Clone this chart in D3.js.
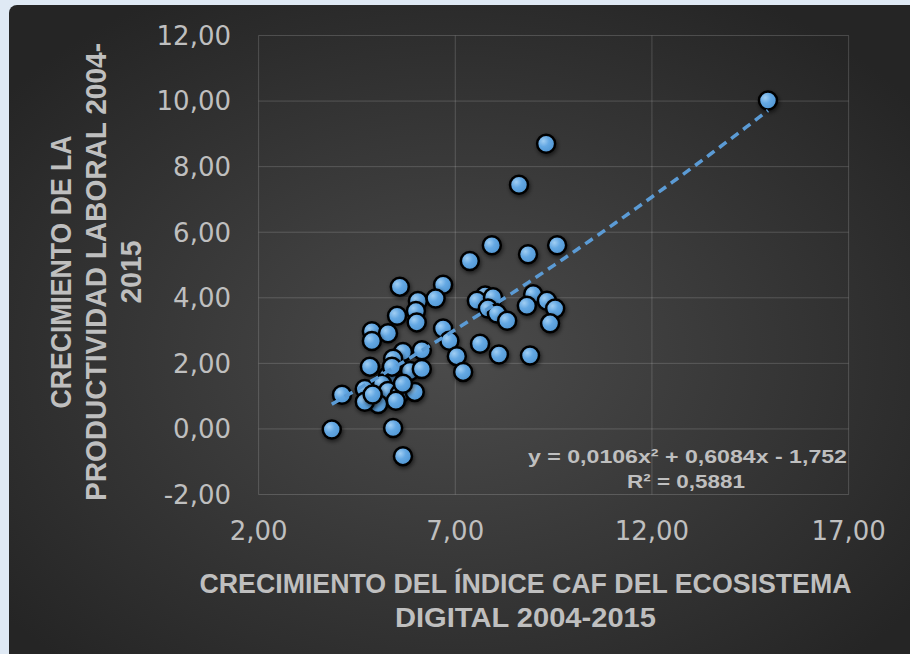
<!DOCTYPE html>
<html>
<head>
<meta charset="utf-8">
<script src="https://cdn.jsdelivr.net/npm/d3@7"></script>
<style>
  html, body { margin: 0; padding: 0; background: #dfe9f4; }
  svg { display: block; }
</style>
</head>
<body>
<div id="chart"></div>
<script>
// growth of the CAF digital ecosystem index (x) vs labour productivity growth (y)
var indexGrowth = [
  14.95, 9.31, 8.62, 7.93, 7.37, 9.59, 8.85, 5.59, 6.69, 6.05,
  6.50, 5.52, 6.00, 6.02, 4.88, 5.29, 4.88, 6.69, 6.85, 7.04,
  7.20, 7.63, 8.11, 8.90, 7.76, 7.55, 7.96, 7.83, 8.06, 8.32,
  8.98, 8.82, 9.33, 9.54, 9.41, 5.67, 6.15, 5.42, 4.83, 5.29,
  5.85, 6.15, 4.70, 5.14, 5.29, 5.59, 5.97, 5.67, 5.04, 4.70,
  5.49, 4.12, 3.86, 5.42, 5.67, 4.90, 5.39
];
var productivityGrowth = [
  10.02, 8.70, 7.45, 5.60, 5.12, 5.60, 5.33, 4.34, 4.40, 3.90,
  3.98, 3.45, 3.60, 3.25, 2.98, 2.92, 2.68, 3.06, 2.69, 2.22,
  1.74, 2.60, 2.27, 2.24, 4.07, 3.91, 4.02, 3.67, 3.52, 3.30,
  4.11, 3.76, 3.91, 3.67, 3.22, 2.35, 2.40, 2.14, 1.90, 1.62,
  1.77, 1.83, 1.22, 1.38, 1.16, 1.07, 1.13, 1.38, 0.76, 0.83,
  0.86, 1.04, -0.02, 0.03, -0.83, 1.05, 1.90
];

var xTicks = [2, 7, 12, 17];
var yTicks = [-2, 0, 2, 4, 6, 8, 10, 12];

// polynomial trendline (order 2) as reported on the chart
var trendCoef = [0.0106, 0.6084, -1.752];
var trendLabel = "y = 0,0106x² + 0,6084x - 1,752";
var r2Label = "R² = 0,5881";

var xTitle = ["CRECIMIENTO DEL ÍNDICE CAF DEL ECOSISTEMA", "DIGITAL 2004-2015"];
var yTitle = ["CRECIMIENTO DE LA", "PRODUCTIVIDAD LABORAL 2004-", "2015"];

var width = 910, height = 654;
var textColor = "#bfbfbf";

var svg = d3.select("#chart").append("svg")
  .attr("width", width)
  .attr("height", height);

var defs = svg.append("defs");

var bg = defs.append("radialGradient")
  .attr("id", "bg")
  .attr("cx", "48%").attr("cy", "52%").attr("r", "62%");
bg.append("stop").attr("offset", "0%").attr("stop-color", "#4b4b4b");
bg.append("stop").attr("offset", "100%").attr("stop-color", "#252525");

var dot = defs.append("radialGradient")
  .attr("id", "dot")
  .attr("cx", "35%").attr("cy", "35%").attr("r", "70%");
dot.append("stop").attr("offset", "0%").attr("stop-color", "#a0cef3");
dot.append("stop").attr("offset", "45%").attr("stop-color", "#64a8e3");
dot.append("stop").attr("offset", "100%").attr("stop-color", "#5096d3");

var shadow = defs.append("filter")
  .attr("id", "shadow")
  .attr("x", "-50%").attr("y", "-50%").attr("width", "200%").attr("height", "200%");
shadow.append("feDropShadow")
  .attr("dx", 1).attr("dy", 2).attr("stdDeviation", 2)
  .attr("flood-color", "#000").attr("flood-opacity", 0.6);

// dark panel
svg.append("rect")
  .attr("x", 9).attr("y", 5)
  .attr("width", width + 20).attr("height", height + 20)
  .attr("rx", 8)
  .attr("fill", "url(#bg)");

var x = d3.scaleLinear().domain([2, 17]).range([258.6, 848.6]);
var y = d3.scaleLinear().domain([-2, 12]).range([494.5, 35.5]);

var locale = d3.formatLocale({ decimal: ",", thousands: ".", grouping: [3], currency: ["", ""], minus: "-" });
var fmt = locale.format(".2f");

// gridlines
var grid = svg.append("g").attr("stroke", "rgba(255,255,255,0.17)").attr("stroke-width", 1);
grid.selectAll("line.h").data(yTicks).enter().append("line")
  .attr("x1", x(2)).attr("x2", x(17))
  .attr("y1", d => y(d)).attr("y2", d => y(d));
grid.selectAll("line.v").data(xTicks).enter().append("line")
  .attr("y1", y(-2)).attr("y2", y(12))
  .attr("x1", d => x(d)).attr("x2", d => x(d));

// tick labels
svg.append("g").selectAll("text").data(yTicks).enter().append("text")
  .attr("x", 231).attr("y", d => y(d))
  .attr("dy", "0.36em")
  .attr("text-anchor", "end")
  .attr("font-family", "DejaVu Sans")
  .attr("font-size", 26)
  .attr("fill", textColor)
  .text(d => fmt(d));

svg.append("g").selectAll("text").data(xTicks).enter().append("text")
  .attr("x", d => x(d)).attr("y", 540)
  .attr("text-anchor", "middle")
  .attr("font-family", "DejaVu Sans")
  .attr("font-size", 26)
  .attr("fill", textColor)
  .text(d => fmt(d));

// points
var points = indexGrowth.map((v, i) => [v, productivityGrowth[i]]);
svg.append("g").selectAll("circle").data(points).enter().append("circle")
  .attr("cx", d => x(d[0]))
  .attr("cy", d => y(d[1]))
  .attr("r", 9)
  .attr("fill", "url(#dot)")
  .attr("stroke", "#000")
  .attr("stroke-width", 2.5)
  .attr("filter", "url(#shadow)");

// trendline over the points
var xMin = d3.min(indexGrowth), xMax = d3.max(indexGrowth);
var trendPts = d3.range(0, 101).map(i => {
  var t = xMin + (xMax - xMin) * i / 100;
  return [t, trendCoef[0] * t * t + trendCoef[1] * t + trendCoef[2]];
});
svg.append("path")
  .datum(trendPts)
  .attr("d", d3.line().x(d => x(d[0])).y(d => y(d[1])))
  .attr("fill", "none")
  .attr("stroke", "#5b9bd5")
  .attr("stroke-width", 3.5)
  .attr("stroke-dasharray", "9,6");

// equation
svg.append("text")
  .attr("x", 687.5).attr("y", 463)
  .attr("text-anchor", "middle")
  .attr("font-family", "Liberation Sans")
  .attr("font-weight", "bold")
  .attr("font-size", 19)
  .attr("fill", textColor)
  .attr("textLength", 319).attr("lengthAdjust", "spacingAndGlyphs")
  .text(trendLabel);
svg.append("text")
  .attr("x", 686).attr("y", 488)
  .attr("text-anchor", "middle")
  .attr("font-family", "Liberation Sans")
  .attr("font-weight", "bold")
  .attr("font-size", 19)
  .attr("fill", textColor)
  .attr("textLength", 118).attr("lengthAdjust", "spacingAndGlyphs")
  .text(r2Label);

// axis titles
var xTitleLen = [652, 261];
svg.append("g").selectAll("text").data(xTitle).enter().append("text")
  .attr("x", 525.5)
  .attr("y", (d, i) => 593 + i * 34)
  .attr("text-anchor", "middle")
  .attr("font-family", "Liberation Sans")
  .attr("font-weight", "bold")
  .attr("font-size", 27)
  .attr("fill", textColor)
  .attr("textLength", (d, i) => xTitleLen[i])
  .attr("lengthAdjust", "spacingAndGlyphs")
  .text(d => d);

var yTitleLen = [273, 458, 63];
svg.append("g").selectAll("text").data(yTitle).enter().append("text")
  .attr("transform", (d, i) => "translate(" + (71 + i * 35) + ",272) rotate(-90)")
  .attr("text-anchor", "middle")
  .attr("font-family", "Liberation Sans")
  .attr("font-weight", "bold")
  .attr("font-size", 29)
  .attr("fill", textColor)
  .attr("textLength", (d, i) => yTitleLen[i])
  .attr("lengthAdjust", "spacingAndGlyphs")
  .text(d => d);
</script>
</body>
</html>
